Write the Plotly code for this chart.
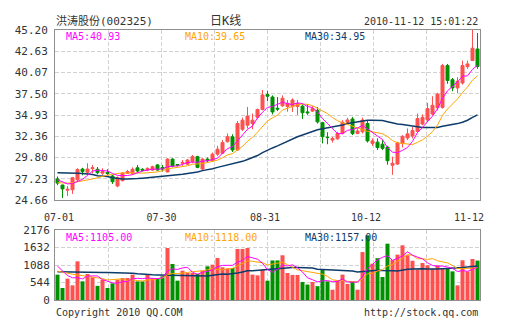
import plotly.graph_objects as go

# ---------------- data ----------------
opens = [27.2, 26.47, 25.85, 25.9, 27.1, 28.4, 28.0, 28.45, 28.37, 27.9,
         28.0, 27.56, 26.35, 27.0, 27.9, 27.9, 28.55, 28.37, 28.28, 28.28,
         28.9, 28.6, 28.05, 29.6, 28.95, 29.1, 28.99, 29.3, 29.9, 28.4,
         29.6, 29.4, 30.2, 30.3, 31.7, 32.3, 30.7, 33.2, 33.7, 33.9,
         34.65, 35.6, 37.4, 37.1, 35.75, 36.05, 35.95, 35.95, 35.95, 36.0,
         35.3, 35.4, 35.5, 34.0, 32.25, 31.9, 32.05, 32.7, 34.05, 34.45,
         32.7, 32.9, 33.9, 31.5, 31.65, 31.4, 31.05, 28.85, 29.0, 31.5,
         32.15, 32.4, 32.95, 33.85, 34.35, 35.05, 35.8, 35.85, 40.9, 39.2,
         38.2, 38.8, 40.77, 41.5, 42.9]
highs = [27.5, 26.5, 26.35, 27.45, 28.5, 28.55, 29.1, 28.9, 28.65, 28.5,
         28.37, 27.7, 27.5, 28.0, 28.3, 28.6, 28.9, 28.5, 28.6, 28.8,
         29.0, 28.9, 29.7, 29.7, 29.0, 29.5, 29.6, 30.1, 30.0, 29.7,
         29.8, 30.4, 31.2, 31.9, 32.7, 32.6, 34.2, 34.6, 35.9, 35.1,
         35.7, 37.95, 37.85, 37.3, 37.1, 37.3, 36.74, 36.95, 36.74, 36.2,
         36.2, 36.0, 35.9, 34.1, 32.85, 32.3, 32.9, 34.3, 34.6, 34.7,
         33.3, 34.6, 34.3, 32.1, 32.1, 31.9, 31.2, 29.9, 31.7, 32.5,
         33.3, 33.5, 35.1, 35.0, 36.4, 37.2, 37.6, 41.1, 41.1, 39.4,
         39.5, 41.5, 41.5, 45.2, 44.84]
lows = [26.45, 24.9, 25.15, 25.4, 26.9, 27.65, 27.7, 27.9, 27.75, 27.7,
        27.68, 26.6, 26.2, 26.9, 27.8, 27.7, 27.96, 28.1, 28.15, 28.2,
        28.2, 28.1, 28.0, 28.6, 28.7, 28.8, 28.9, 29.1, 28.5, 28.3,
        29.2, 29.3, 30.0, 30.2, 31.6, 30.46, 30.6, 33.0, 33.3, 33.2,
        34.5, 35.5, 36.6, 35.0, 35.4, 35.9, 35.33, 35.3, 34.95, 34.45,
        34.95, 35.3, 33.9, 31.5, 31.4, 31.6, 31.95, 32.6, 33.9, 32.5,
        32.6, 32.7, 31.6, 31.2, 30.7, 30.7, 28.93, 27.7, 28.9, 31.0,
        31.9, 32.1, 32.8, 33.7, 34.1, 34.9, 35.5, 35.7, 38.7, 37.8,
        37.6, 38.6, 40.5, 41.5, 40.5]
closes = [26.7, 26.0, 25.95, 27.35, 28.35, 28.1, 28.4, 28.55, 27.96, 28.1,
          27.85, 26.87, 27.36, 27.9, 28.1, 28.37, 28.16, 28.25, 28.48, 28.68,
          28.28, 28.4, 29.6, 28.75, 28.85, 29.2, 29.49, 29.9, 28.6, 29.6,
          29.4, 30.2, 30.8, 31.6, 32.3, 30.7, 33.9, 34.3, 34.8, 34.3,
          35.6, 37.35, 37.2, 35.3, 35.65, 36.95, 36.35, 36.74, 36.3, 35.2,
          35.2, 35.7, 34.1, 32.3, 32.2, 32.1, 32.7, 34.05, 34.33, 32.7,
          33.0, 34.33, 31.8, 31.8, 31.0, 30.9, 29.4, 29.1, 31.55, 32.35,
          32.65, 33.05, 34.5, 34.65, 35.7, 36.1, 37.45, 40.9, 39.1, 38.2,
          39.0, 40.9, 41.1, 43.0, 40.8]
volumes = [788, 373, 663, 456, 1202, 580, 808, 705, 440, 632,
           373, 518, 632, 684, 684, 788, 580, 580, 788, 684,
           684, 736, 1617, 1119, 601, 912, 839, 839, 808, 912,
           1047, 1099, 1306, 1016, 974, 995, 1586, 1586, 1617, 790,
           767, 943, 600, 1230, 1230, 1390, 840, 780, 780, 560,
           480, 560, 430, 960, 580, 320, 610, 790, 500, 560,
           320, 1490, 2010, 1130, 1300, 715, 1750, 1250, 1410, 1700,
           1390, 1220, 945, 1150, 1080, 975, 1080, 995, 995, 890,
           455, 1235, 890, 1275, 1225]

ma5 = [27.1, 26.85, 26.6, 26.65, 26.87, 27.15, 27.63, 28.15, 28.27, 28.22,
       28.17, 27.87, 27.63, 27.62, 27.62, 27.72, 27.98, 28.16, 28.27, 28.39,
       28.37, 28.42, 28.69, 28.74, 28.78, 28.96, 29.18, 29.24, 29.21, 29.36,
       29.4, 29.54, 29.72, 30.32, 30.86, 31.12, 31.86, 32.56, 33.2, 33.6,
       34.58, 35.27, 35.85, 35.95, 36.22, 36.49, 36.29, 36.2, 36.4, 36.31,
       35.96, 35.83, 35.3, 34.5, 33.9, 33.28, 32.68, 32.67, 33.08, 33.18,
       33.36, 33.68, 33.23, 32.73, 32.39, 31.97, 30.98, 30.44, 30.39, 30.66,
       31.01, 31.74, 32.82, 33.44, 34.11, 34.8, 35.68, 36.96, 37.85, 38.35,
       38.93, 39.62, 39.66, 40.44, 40.96]
ma10 = [26.75, 26.7, 26.7, 26.75, 26.85, 26.95, 27.1, 27.2, 27.35, 27.55,
        27.66, 27.75, 27.89, 27.95, 27.92, 27.95, 27.93, 27.9, 27.95, 28.01,
        28.05, 28.2, 28.43, 28.51, 28.59, 28.67, 28.8, 28.97, 28.98, 29.07,
        29.18, 29.36, 29.48, 29.77, 30.11, 30.26, 30.7, 31.14, 31.76, 32.23,
        32.85, 33.57, 34.21, 34.58, 34.91, 35.54, 35.78, 36.02, 36.17, 36.26,
        36.22, 36.06, 35.75, 35.45, 35.1, 34.62, 34.25, 33.99, 33.79, 33.54,
        33.32, 33.18, 32.95, 32.9, 32.78, 32.66, 32.33, 31.84, 31.56, 31.52,
        31.49, 31.36, 31.63, 31.92, 32.39, 32.91, 33.71, 34.89, 35.65, 36.23,
        36.87, 37.65, 38.31, 39.15, 39.66]
ma30 = [27.95, 27.95, 27.9, 27.9, 27.9, 27.85, 27.8, 27.75, 27.6, 27.55,
        27.5, 27.35, 27.25, 27.2, 27.2, 27.2, 27.25, 27.3, 27.35, 27.4,
        27.45, 27.48, 27.55, 27.62, 27.7, 27.77, 27.85, 27.95, 28.05, 28.21,
        28.3, 28.44, 28.6, 28.74, 28.87, 28.96, 29.14, 29.33, 29.56, 29.77,
        30.03, 30.38, 30.7, 30.95, 31.2, 31.49, 31.76, 32.04, 32.3, 32.52,
        32.75, 32.99, 33.14, 33.26, 33.37, 33.47, 33.58, 33.72, 33.91, 34.01,
        34.13, 34.27, 34.3, 34.31, 34.27, 34.27, 34.12, 33.95, 33.84, 33.78,
        33.68, 33.53, 33.44, 33.42, 33.42, 33.4, 33.43, 33.57, 33.66, 33.76,
        33.89, 34.06, 34.3, 34.65, 34.94]
vma5 = [1050, 900, 760, 690, 696, 655, 742, 750, 747, 633,
        592, 534, 519, 568, 578, 661, 674, 663, 684, 684,
        663, 694, 902, 968, 951, 997, 1018, 862, 800, 862,
        889, 941, 1034, 1076, 1088, 1078, 1175, 1231, 1352, 1315,
        1269, 1141, 943, 866, 954, 1079, 1058, 1094, 1004, 870,
        688, 632, 562, 598, 602, 570, 580, 652, 560, 556,
        556, 732, 976, 1102, 1250, 1329, 1381, 1229, 1285, 1365,
        1500, 1394, 1333, 1281, 1157, 1074, 1046, 1056, 1025, 987,
        883, 914, 893, 949, 1016]
vma10 = [900, 860, 820, 800, 780, 760, 740, 720, 700, 665,
         623, 638, 635, 657, 606, 626, 604, 591, 626, 631,
         662, 684, 783, 826, 818, 830, 856, 882, 884, 907,
         943, 979, 948, 938, 975, 984, 1058, 1133, 1214, 1202,
         1174, 1158, 1087, 1109, 1134, 1174, 1099, 1019, 935, 912,
         883, 845, 828, 801, 736, 629, 606, 607, 579, 579,
         563, 656, 814, 831, 903, 943, 1057, 1103, 1194, 1308,
         1415, 1388, 1281, 1283, 1261, 1287, 1220, 1195, 1153, 1072,
         979, 980, 975, 987, 1002]
vma30 = [880, 880, 878, 875, 872, 870, 868, 866, 862, 858,
         855, 852, 850, 846, 840, 830, 815, 800, 790, 785,
         780, 776, 770, 765, 760, 756, 750, 745, 740, 734,
         743, 767, 788, 807, 800, 813, 839, 869, 908, 913,
         926, 940, 939, 958, 976, 996, 1005, 1011, 1011, 1007,
         1000, 994, 955, 949, 949, 929, 921, 920, 909, 898,
         873, 886, 910, 914, 924, 915, 921, 909, 903, 933,
         954, 963, 974, 972, 967, 953, 961, 968, 975, 986,
         985, 1008, 1023, 1034, 1055]

price_ticks = [24.66, 27.23, 29.80, 32.36, 34.93, 37.50, 40.07, 42.63, 45.20]
vol_ticks = [0, 544, 1088, 1632, 2176]
x_labels = ["07-01", "07-30", "08-31", "10-12", "11-12"]
x_label_pos = [0.3, 20.8, 41.5, 61.7, 82.3]

title_text = "洪涛股份(002325)"
period_text = "日K线"
time_text = "2010-11-12 15:01:22"
price_ma_labels = ["MA5:40.93", "MA10:39.65", "MA30:34.95"]
vol_ma_labels = ["MA5:1105.00", "MA10:1118.00", "MA30:1157.00"]
footer_left = "Copyright 2010 QQ.COM"
footer_right = "http://stock.qq.com"

# ---------------- styling ----------------
RED = "#ff5050"
GREEN = "#009100"
C5 = "#ff00ff"
C10 = "#ffa500"
C30 = "#0d3b6b"
GRID = "#d2d2d2"
FRAME = "#8f8f8f"
TXT = "#333333"
MONO = "DejaVu Sans Mono, Noto Sans CJK SC"

x = list(range(len(closes)))
W, H = 505, 330
X0, X1 = 55, 480

fig = go.Figure()
fig.add_trace(go.Candlestick(
    x=x, open=opens, high=highs, low=lows, close=closes,
    increasing=dict(line=dict(color=RED, width=1), fillcolor=RED),
    decreasing=dict(line=dict(color=GREEN, width=1), fillcolor=GREEN),
    whiskerwidth=0, xaxis="x", yaxis="y", showlegend=False, hoverinfo="skip"))
for arr, col, w in [(ma30, C30, 1.5), (ma10, C10, 1), (ma5, C5, 1)]:
    fig.add_trace(go.Scatter(x=x, y=arr, mode="lines", line=dict(color=col, width=w),
                             xaxis="x", yaxis="y", showlegend=False, hoverinfo="skip"))
fig.add_trace(go.Bar(x=x, y=volumes,
                     marker=dict(color=[RED if c >= o else GREEN for o, c in zip(opens, closes)],
                                 line=dict(width=0)),
                     xaxis="x2", yaxis="y2", showlegend=False, hoverinfo="skip"))
for arr, col, w in [(vma30, C30, 1.5), (vma10, C10, 1), (vma5, C5, 1)]:
    fig.add_trace(go.Scatter(x=x, y=arr, mode="lines", line=dict(color=col, width=w),
                             xaxis="x2", yaxis="y2", showlegend=False, hoverinfo="skip"))

xdom = [X0 / W, X1 / W]
main_dom = [(H - 200) / H, (H - 30) / H]
vol_dom = [(H - 300) / H, (H - 230) / H]

common_x = dict(range=[-0.5, len(closes) - 0.5], domain=xdom, showline=True, mirror=True,
                linecolor=FRAME, linewidth=1, showgrid=False, zeroline=False,
                minor=dict(tick0=-0.5, dtick=len(closes) / 8, showgrid=True, gridcolor=GRID,
                           griddash="4px,2px", gridwidth=1, ticks=""))
common_y = dict(showgrid=True, gridcolor=GRID, griddash="4px,2px", gridwidth=1,
                showline=True, mirror=True, linecolor=FRAME, linewidth=1, zeroline=False,
                ticks="", tickmode="array", tickfont=dict(family=MONO, size=11, color=TXT))
fig.update_layout(
    template="none", width=W, height=H, autosize=False,
    margin=dict(l=0, r=0, t=0, b=0), paper_bgcolor="white", plot_bgcolor="white",
    boxgap=0.4, boxgroupgap=0, bargap=0.2,
    font=dict(family=MONO, size=10, color=TXT),
    xaxis=dict(common_x, anchor="y", tickmode="array", tickvals=x_label_pos, ticktext=x_labels,
               ticks="", ticklabelstandoff=8, tickfont=dict(family=MONO, size=10, color=TXT),
               rangeslider=dict(visible=False)),
    xaxis2=dict(common_x, anchor="y2", showticklabels=False, ticks=""),
    yaxis=dict(common_y, domain=main_dom, range=[price_ticks[0], price_ticks[-1]],
               tickvals=price_ticks, ticktext=["%.2f" % v for v in price_ticks],
               ticklabelstandoff=4, anchor="x"),
    yaxis2=dict(common_y, domain=vol_dom, range=[0, vol_ticks[-1]],
                tickvals=vol_ticks, ticktext=[str(v) for v in vol_ticks],
                ticklabelstandoff=2, anchor="x2"),
)


def ann(text, px, py, anchor="left", color=TXT, size=10):
    fig.add_annotation(text=text, x=px / W, y=(H - py) / H, xref="paper", yref="paper",
                       xanchor=anchor, yanchor="middle", showarrow=False,
                       font=dict(family=MONO, size=size, color=color))


ann(title_text, 54, 20.5, size=11)
ann(period_text, 225, 20.5, anchor="center", size=12)
ann(time_text, 480, 22, anchor="right")
for lab, px, col in zip(price_ma_labels, [64, 183, 303], [C5, C10, C30]):
    ann(lab, px, 36.5, color=col)
for lab, px, col in zip(vol_ma_labels, [64, 183, 303], [C5, C10, C30]):
    ann(lab, px, 237.5, color=col)
ann(footer_left, 54, 312)
ann(footer_right, 480, 312, anchor="right")

fig.write_html("out.html")
